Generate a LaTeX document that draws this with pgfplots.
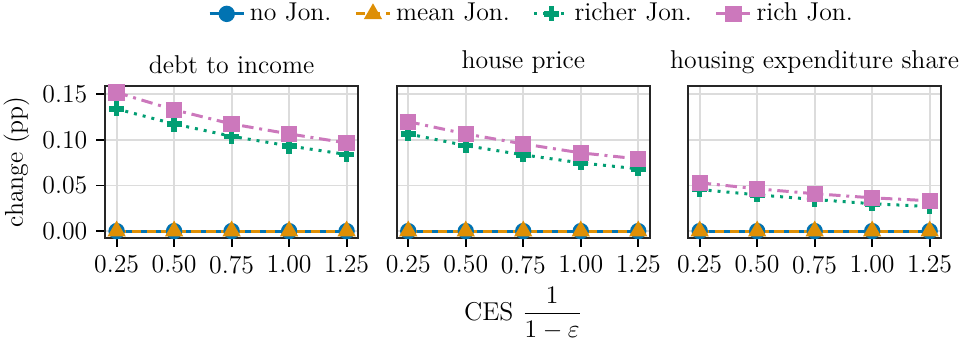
\documentclass[border=0pt]{standalone}
\usepackage{amsmath}
\usepackage{pgfplots}
\pgfplotsset{compat=1.18}
\definecolor{cblue}{HTML}{0173B2}
\definecolor{corange}{HTML}{DE8F05}
\definecolor{cgreen}{HTML}{029E73}
\definecolor{cpink}{HTML}{CC78BC}
\definecolor{gridc}{HTML}{DCDCDC}
\pgfplotsset{
  panel/.style={
    scale only axis, width=110pt, height=66.3pt,
    xmin=0.2, xmax=1.3, ymin=-0.0076, ymax=0.1596,
    xtick={0.25,0.5,0.75,1,1.25},
    xticklabels={0.25,0.50,0.75,1.00,1.25},
    ytick={0,0.05,0.1,0.15},
    yticklabels={0.00,0.05,0.10,0.15},
    tick align=outside, major tick length=3.8pt,
    tick style={black, line width=0.8pt},
    xtick pos=bottom, ytick pos=left,
    grid=major, major grid style={gridc, line width=0.8pt},
    axis line style={line width=0.9pt, black!85},
    title style={yshift=-4.6pt},
    clip=false,
  },
  noj/.style={cblue, line width=1.3pt, solid, mark=*, mark size=2.9pt, mark options={solid, fill=cblue}},
  meanj/.style={corange, line width=1.3pt, dashed, dash pattern=on 4pt off 2.5pt, mark=triangle*, mark size=3.3pt, mark options={solid, fill=corange}},
  richerj/.style={cgreen, line width=1.3pt, dotted, dash pattern=on 1.3pt off 2.6pt, mark=+, mark size=3.3pt, mark options={solid, line width=2.4pt}},
  richj/.style={cpink, line width=1.3pt, dash pattern=on 5pt off 2.5pt on 1.3pt off 2.5pt, mark=square*, mark size=2.9pt, mark options={solid, fill=cpink}},
}
\begin{document}
\fontsize{11.2}{13.5}\selectfont
\begin{tikzpicture}
\useasboundingbox (0,0) rectangle (420pt,149.6pt);
% Panel 1
\begin{axis}[panel, at={(45.7pt,46.1pt)}, anchor=south west,
  title={debt to income}, ylabel={change (pp)}, ylabel style={yshift=-2pt}]
\addplot[noj] coordinates {(0.25,0) (0.5,0) (0.75,0) (1,0) (1.25,0)};
\addplot[meanj] coordinates {(0.25,0) (0.5,0) (0.75,0) (1,0) (1.25,0)};
\addplot[richerj] coordinates {(0.25,0.134) (0.5,0.1175) (0.75,0.104) (1,0.0934) (1.25,0.084)};
\addplot[richj] coordinates {(0.25,0.152) (0.5,0.133) (0.75,0.1175) (1,0.1066) (1.25,0.0967)};
\end{axis}
% Panel 2
\begin{axis}[panel, at={(172.5pt,46.1pt)}, anchor=south west,
  title={house price}, yticklabels={}, ytick style={draw=none},
  xlabel={CES $\dfrac{1}{1-\varepsilon}$}, xlabel style={yshift=2pt},
  legend columns=4,
  legend style={draw=none, fill=none, at={(0.538,1.47)}, anchor=center,
    /tikz/every even column/.append style={column sep=8pt}},
  legend image code/.code={\draw[mark repeat=2,mark phase=2] plot coordinates {(0cm,0cm) (0.26cm,0cm) (0.52cm,0cm)};}]
\addplot[noj] coordinates {(0.25,0) (0.5,0) (0.75,0) (1,0) (1.25,0)};
\addlegendentry{no Jon.}
\addplot[meanj] coordinates {(0.25,0) (0.5,0) (0.75,0) (1,0) (1.25,0)};
\addlegendentry{mean Jon.}
\addplot[richerj] coordinates {(0.25,0.1066) (0.5,0.0938) (0.75,0.0836) (1,0.0748) (1.25,0.0683)};
\addlegendentry{richer Jon.}
\addplot[richj] coordinates {(0.25,0.120) (0.5,0.1066) (0.75,0.0956) (1,0.0858) (1.25,0.0792)};
\addlegendentry{rich Jon.}
\end{axis}
% Panel 3
\begin{axis}[panel, at={(299.2pt,46.1pt)}, anchor=south west,
  title={housing expenditure share}, yticklabels={}, ytick style={draw=none}]
\addplot[noj] coordinates {(0.25,0) (0.5,0) (0.75,0) (1,0) (1.25,0)};
\addplot[meanj] coordinates {(0.25,0) (0.5,0) (0.75,0) (1,0) (1.25,0)};
\addplot[richerj] coordinates {(0.25,0.0456) (0.5,0.0398) (0.75,0.0347) (1,0.030) (1.25,0.027)};
\addplot[richj] coordinates {(0.25,0.053) (0.5,0.0464) (0.75,0.041) (1,0.0365) (1.25,0.0333)};
\end{axis}
\end{tikzpicture}
\end{document}
